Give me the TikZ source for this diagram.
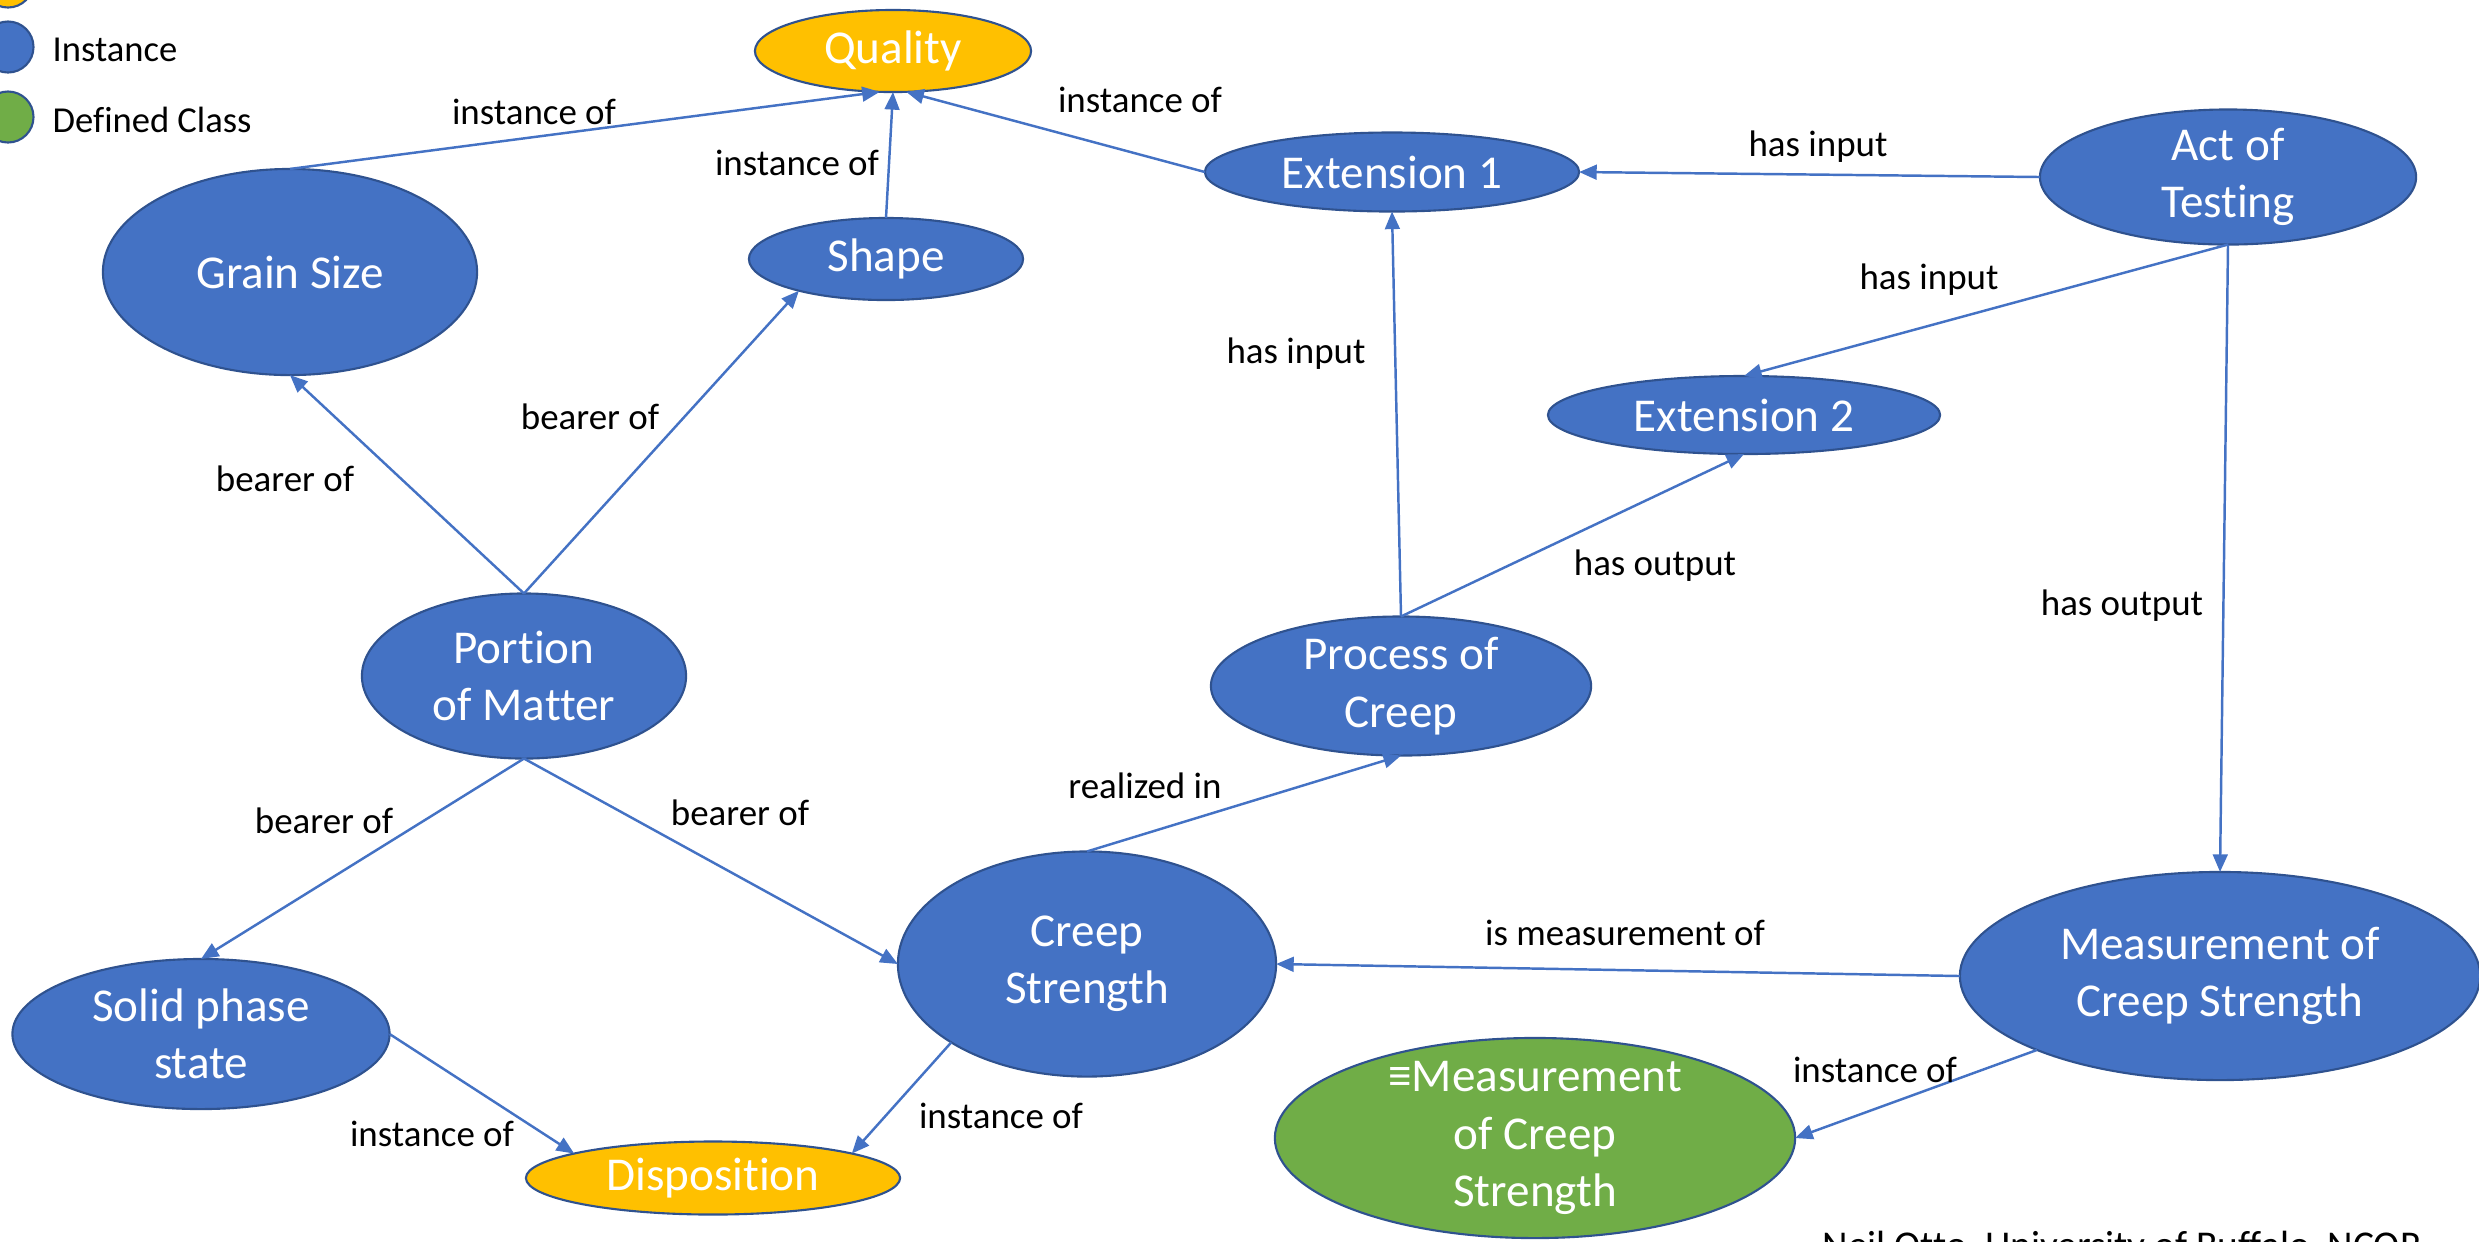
\documentclass[tikz,border=0pt]{standalone}
\usepackage{fontspec}
\setmainfont{Carlito}[Ligatures=NoCommon]
\usetikzlibrary{shapes.geometric,arrows.meta}

\definecolor{instblue}{HTML}{4472C4}
\definecolor{bordblue}{HTML}{2F528F}
\definecolor{univyellow}{HTML}{FFC000}
\definecolor{defgreen}{HTML}{70AD47}
\definecolor{linkblue}{HTML}{4472C4}

\newcommand\ndfont{\fontsize{13.4}{16.3}\selectfont}
\newcommand\lbfont{\fontsize{10.5}{12.6}\selectfont}

\tikzset{
  base/.style={ellipse, draw=bordblue, line width=0.6pt, inner sep=0pt, outer sep=0pt},
  inst/.style={base, fill=instblue},
  univ/.style={base, fill=univyellow},
  defc/.style={base, fill=defgreen},
  ntext/.style={text=white, font=\ndfont, align=center, inner sep=0pt},
  rel/.style={draw=linkblue, line width=0.7pt, -{Triangle[length=5pt,width=4.2pt]}},
  lbl/.style={font=\lbfont, inner sep=0pt, text=black},
}

\begin{document}
\begin{tikzpicture}[x=0.01cm, y=-0.01cm]
\useasboundingbox (0,0) rectangle (2479,1241);
\clip (0,0) rectangle (2479,1241);

% legend
\node[univ, minimum width=0.51cm, minimum height=0.51cm] (lgu) at (8,-18) {};
\node[inst, minimum width=0.51cm, minimum height=0.51cm] (lgi) at (8,47) {};
\node[defc, minimum width=0.51cm, minimum height=0.51cm] (lgd) at (8,117) {};
\node[lbl, anchor=west, font=\fontsize{10.4}{12.5}\selectfont] (lgit) at (52,50) {Instance};
\node[lbl, anchor=west, font=\fontsize{10.4}{12.5}\selectfont] (lgdt) at (52,120) {Defined Class};

% classes and instances
\node[univ, minimum width=2.76cm, minimum height=0.82cm, label={[ntext]center:Quality}] (q) at (893,51) {};
\node[inst, minimum width=3.74cm, minimum height=2.06cm, label={[ntext]center:Grain Size}] (gs) at (290,272) {};
\node[inst, minimum width=2.74cm, minimum height=0.82cm, label={[ntext]center:Shape}] (sh) at (886,259) {};
\node[inst, minimum width=3.74cm, minimum height=0.79cm, label={[ntext]center:Extension 1}] (e1) at (1392,172) {};
\node[inst, minimum width=3.76cm, minimum height=1.35cm, label={[ntext]center:Act of\\Testing}] (act) at (2228,177) {};
\node[inst, minimum width=3.92cm, minimum height=0.78cm, label={[ntext]center:Extension 2}] (e2) at (1744,415) {};
\node[inst, minimum width=3.24cm, minimum height=1.65cm, label={[ntext]center:Portion\\of Matter}] (pm) at (524,676) {};
\node[inst, minimum width=3.80cm, minimum height=1.39cm, label={[ntext]center:Process of\\Creep}] (pc) at (1401,686) {};
\node[inst, minimum width=3.78cm, minimum height=2.25cm, label={[ntext]center:Creep\\Strength}] (cs) at (1087,964) {};
\node[inst, minimum width=5.20cm, minimum height=2.08cm, label={[ntext]center:Measurement of\\Creep Strength}] (meas) at (2220,976) {};
\node[inst, minimum width=3.77cm, minimum height=1.50cm, label={[ntext]center:Solid phase\\state}] (sp) at (201,1034) {};
\node[univ, minimum width=3.74cm, minimum height=0.73cm, label={[ntext]center:Disposition}] (disp) at (713,1178) {};
\node[defc, minimum width=5.20cm, minimum height=2.00cm, label={[ntext]center:≡Measurement\\of Creep\\Strength}] (eq) at (1535,1138) {};

% relations
\draw[rel] (gs.north) -- (q.-108);
\draw[rel] (sh.north) -- (q.south);
\draw[rel] (e1.west) -- (q.-72);
\draw[rel] (act.west) -- (e1.east);
\draw[rel] (act.south) -- (e2.north);
\draw[rel] (act.south) -- (meas.north);
\draw[rel] (pc.north) -- (e1.south);
\draw[rel] (pc.north) -- (e2.south);
\draw[rel] (pm.north) -- (gs.south);
\draw[rel] (pm.north) -- (sh.-160);
\draw[rel] (pm.south) -- (sp.north);
\draw[rel] (pm.south) -- (cs.west);
\draw[rel] (cs.north) -- (pc.south);
\draw[rel] (meas.west) -- (cs.east);
\draw[rel] (meas.-158) -- (eq.east);
\draw[rel] (sp.east) -- (disp.170);
\draw[rel] (cs.210) -- (disp.10);

% relation labels
\node[lbl] (l1) at (534,112) {instance of};
\node[lbl] (l2) at (797,163) {instance of};
\node[lbl] (l3) at (1140,100) {instance of};
\node[lbl] (l4) at (1818,147) {has input};
\node[lbl] (l5) at (1929,280) {has input};
\node[lbl] (l6) at (2122,606) {has output};
\node[lbl] (l7) at (1296,354) {has input};
\node[lbl] (l8) at (1655,566) {has output};
\node[lbl] (l9) at (285,479) {bearer of};
\node[lbl] (l10) at (590,417) {bearer of};
\node[lbl] (l11) at (324,821) {bearer of};
\node[lbl] (l12) at (740,813) {bearer of};
\node[lbl] (l13) at (1145,786) {realized in};
\node[lbl] (l14) at (1625,933) {is measurement of};
\node[lbl] (l15) at (1875,1070) {instance of};
\node[lbl] (l16) at (432,1134) {instance of};
\node[lbl] (l17) at (1001,1116) {instance of};

% credit line
\node[lbl, anchor=base west, font=\fontsize{11.2}{13}\selectfont] (credit) at (1822,1258) {Neil Otto, University of Buffalo, NCOR};
\end{tikzpicture}
\end{document}
